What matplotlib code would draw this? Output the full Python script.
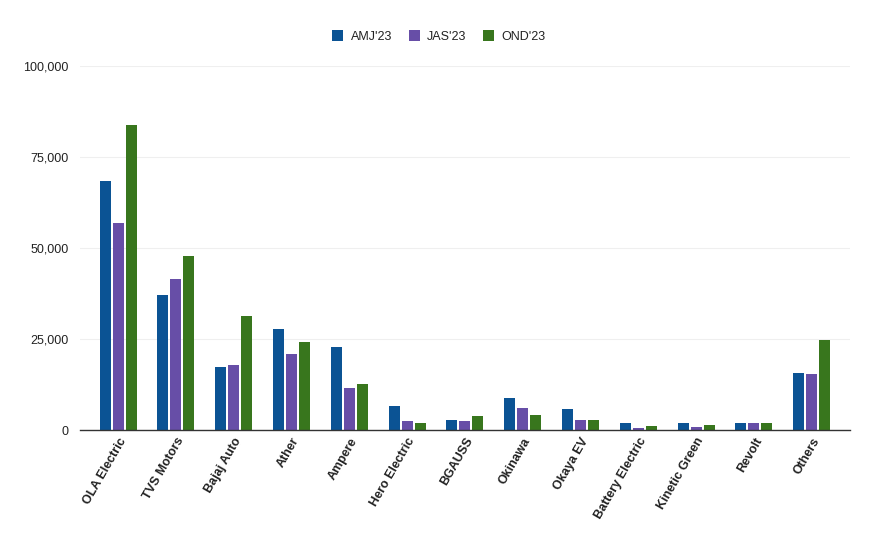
import matplotlib
matplotlib.use("Agg")
import matplotlib.pyplot as plt
import numpy as np
from matplotlib.ticker import FuncFormatter

plt.rcParams['font.family'] = ['Liberation Sans', 'DejaVu Sans']

makers = ['OLA Electric', 'TVS Motors', 'Bajaj Auto', 'Ather', 'Ampere',
          'Hero Electric', 'BGAUSS', 'Okinawa', 'Okaya EV', 'Battery Electric',
          'Kinetic Green', 'Revolt', 'Others']
amj23 = [68400, 37100, 17300, 27700, 22800, 6600, 2700, 8800, 5800, 1900, 1900, 1900, 15700]
jas23 = [56800, 41500, 17900, 20900, 11500, 2500, 2500, 6000, 2700, 500, 800, 1900, 15400]
ond23 = [83800, 47800, 31300, 24200, 12600, 1900, 3800, 4000, 2700, 1100, 1400, 1900, 24700]
series = [("AMJ'23", amj23, '#0b5394'),
          ("JAS'23", jas23, '#674ea7'),
          ("OND'23", ond23, '#38761d')]

fig = plt.figure(figsize=(8.78, 5.42), dpi=100)
ax = fig.add_axes([0.0911, 0.2066, 0.8769, 0.6716])

x = np.arange(len(makers))
width = 0.19
step = 0.225
for i, (name, vals, color) in enumerate(series):
    ax.bar(x + (i - 1) * step, vals, width=width, color=color, label=name, zorder=3)

ax.set_xlim(-0.66, len(makers) - 1 + 0.66)
ax.set_ylim(0, 100000)
ax.set_yticks([0, 25000, 50000, 75000, 100000])
ax.yaxis.set_major_formatter(FuncFormatter(lambda v, p: f'{int(v):,}'))
ax.grid(axis='y', color='#efefef', linewidth=0.8, zorder=0)
ax.tick_params(axis='y', length=0, pad=8, labelsize=9, labelcolor='#222222')
ax.tick_params(axis='x', length=0, pad=4)
ax.set_xticks(x)
ax.set_xticklabels(makers, rotation=60, ha='right', rotation_mode='anchor',
                   fontsize=9, fontweight='bold', color='#222222')
for side in ['top', 'right', 'left']:
    ax.spines[side].set_visible(False)
ax.spines['bottom'].set_color('#333333')
ax.spines['bottom'].set_linewidth(1.0)
ax.spines['bottom'].set_zorder(4)

fig.legend(loc='upper center', bbox_to_anchor=(0.5, 0.965), ncol=3, frameon=False,
           handlelength=0.9, handleheight=0.9, handletextpad=0.6, columnspacing=1.3,
           fontsize=9, labelcolor='#222222')

fig.savefig('out.png', dpi=100)
